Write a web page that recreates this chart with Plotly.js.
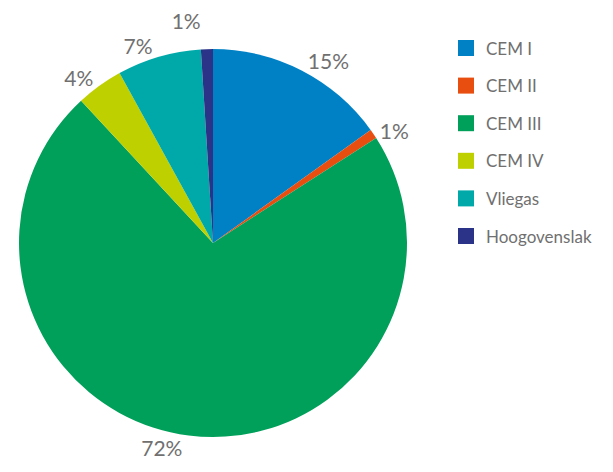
<!DOCTYPE html>
<html>
<head>
<meta charset="utf-8">
<script src="https://cdn.plot.ly/plotly-3.0.1.min.js"></script>
<style>html,body{margin:0;padding:0;background:#fff;}#chart{width:613px;height:472px;}</style>
</head>
<body>
<div id="chart"></div>
<script>
const categories = ["CEM I", "CEM II", "CEM III", "CEM IV", "Vliegas", "Hoogovenslak"];
const shares = [15.1, 0.8, 72.2, 3.9, 7.0, 1.0];
const colors = ["#0081c6", "#e84e0f", "#00a05a", "#bfd000", "#00a9a9", "#2b3388"];

const trace = {
  type: "pie",
  labels: categories,
  values: shares,
  sort: false,
  direction: "clockwise",
  rotation: 0,
  marker: {colors: colors, line: {width: 0}},
  textposition: "outside",
  texttemplate: "%{percent:.0%}",
  textfont: {family: "Lato, sans-serif", size: 21, color: "#707070"},
  hoverinfo: "none",
  domain: {x: [19/613, 407/613], y: [35/472, 423/472]}
};

const layout = {
  width: 613, height: 472,
  margin: {l: 0, r: 0, t: 0, b: 0},
  paper_bgcolor: "#ffffff",
  showlegend: true,
  legend: {x: 446/613, y: 1 - 33/472, xanchor: "left", yanchor: "top",
           font: {family: "Lato, sans-serif", size: 17, color: "#707070"},
           bgcolor: "rgba(0,0,0,0)"}
};

Plotly.newPlot("chart", [trace], layout, {displayModeBar: false, staticPlot: true}).then(function(gd){
  const leg = gd.querySelector(".legend");
  if (leg) {
    leg.querySelectorAll("[clip-path]").forEach(function(el){ el.removeAttribute("clip-path"); });
    leg.querySelectorAll(".traces").forEach(function(el, i){
      el.setAttribute("transform", "translate(0," + (15 + i*37.6) + ")");
      const p = el.querySelector(".legendpoints path");
      if (p) p.setAttribute("d", "M8,8H-8V-8H8Z");
    });
  }
  gd.querySelectorAll("path.textline").forEach(function(el){ el.remove(); });
});
</script>
</body>
</html>
